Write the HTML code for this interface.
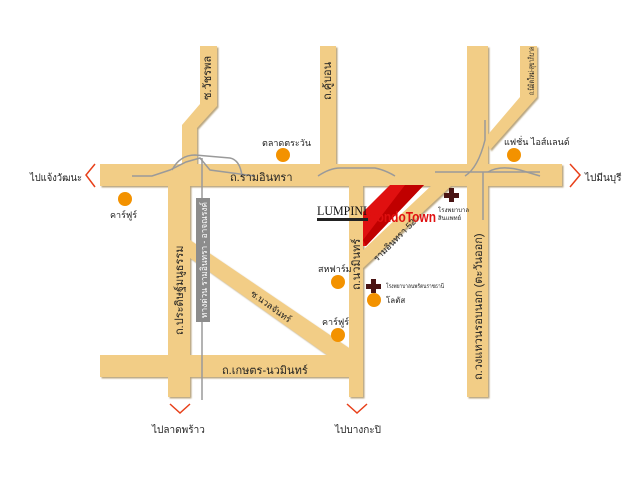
<!DOCTYPE html>
<html><head><meta charset="utf-8"><style>
html,body{margin:0;padding:0;background:#fff;}
svg{display:block;}
text{font-family:"Liberation Sans","Noto Sans CJK SC",sans-serif;fill:#222;}
</style></head><body>
<svg width="640" height="480" viewBox="0 0 640 480">
<defs><filter id="sh" x="-5%" y="-5%" width="110%" height="110%"><feDropShadow dx="1.5" dy="1.5" stdDeviation="0.8" flood-color="#a89060" flood-opacity="0.8"/></filter></defs>
<g fill="#f2cd86" filter="url(#sh)">
<rect x="100" y="164" width="462" height="22"/>
<rect x="100" y="355" width="262" height="22"/>
<rect x="168" y="164" width="22" height="233"/>
<polygon points="200,46 217,46 217,106 197,128 197,166 182,166 182,125 200,104"/>
<rect x="320" y="46" width="16" height="120"/>
<rect x="349" y="184" width="14" height="213"/>
<rect x="467" y="46" width="21" height="351"/>
<polygon points="520,46 537,46 537,97 490,150 485,138 520,97"/>
<polygon points="432,185 452,185 363,268 363,250"/>
<polygon points="190,240 190,258 330,357 352,357 352,350"/>
</g>
<g stroke="#9a9a9a" stroke-width="1.5" fill="none">
<path d="M132,176 L152,176 L170,170 L186,162 L200,158 L210,170 L255,176"/>
<path d="M172,170 Q180,155 195,155 L230,158 Q240,160 242,176"/>
<path d="M202,158 L202,400"/>
<path d="M318,176 Q330,168 340,168 L375,168 Q385,170 395,176"/>
<path d="M435,172 L540,172"/>
<path d="M465,176 Q478,168 485,140 L485,120"/>
<path d="M483,172 L483,220"/>
<path d="M488,172 Q500,165 520,170 L540,176"/>
</g>
<rect x="196" y="198" width="14" height="124" fill="#8c8c8c"/>
<text transform="translate(207,318) rotate(-90)" font-size="9" textLength="116" lengthAdjust="spacingAndGlyphs" style="fill:#fff">ทางด่วน รามอินทรา - อาจณรงค์</text>
<polygon points="390,185 424,185 366,246 363,246 363,212" fill="#e01010"/>
<polygon points="405,185 424,185 366,246 363,240" fill="#c00000"/>
<text x="317" y="215" font-size="13" textLength="50" lengthAdjust="spacingAndGlyphs" style="fill:#111;font-family:'Liberation Serif',serif">LUMPINI</text>
<rect x="317" y="218" width="51" height="3" fill="#222"/>
<text x="368" y="222" font-size="15" font-weight="bold" textLength="68" lengthAdjust="spacingAndGlyphs" style="fill:#e01010">CondoTown</text>
<g stroke="#e8401a" stroke-width="1.5" fill="none">
<polyline points="95,164 86,175 95,187"/>
<polyline points="570,164 580,175 570,187"/>
<polyline points="170,404 180,413 190,404"/>
<polyline points="347,404 357,413 367,404"/>
</g>
<g fill="#f39200">
<circle cx="125" cy="199" r="7"/><circle cx="283" cy="155" r="7"/>
<circle cx="514" cy="155" r="7"/><circle cx="338" cy="282" r="7"/>
<circle cx="338" cy="335" r="7"/><circle cx="374" cy="300" r="7"/>
</g>
<g fill="#4a1414">
<rect x="449" y="188" width="5" height="14"/><rect x="444" y="193" width="15" height="5"/>
<rect x="371" y="279" width="5" height="14"/><rect x="366" y="284" width="15" height="5"/>
</g>
<g font-size="10">
<text x="30" y="181" textLength="52" lengthAdjust="spacingAndGlyphs">ไปแจ้งวัฒนะ</text>
<text x="585" y="181">ไปมีนบุรี</text>
<text x="152" y="433">ไปลาดพร้าว</text>
<text x="335" y="433">ไปบางกะปิ</text>
<text x="230" y="181" font-size="11">ถ.รามอินทรา</text>
<text x="222" y="374" font-size="11">ถ.เกษตร-นวมินทร์</text>
<text x="110" y="218" font-size="9">คาร์ฟูร์</text>
<text x="262" y="146" font-size="9">ตลาดตระวัน</text>
<text x="504" y="145" font-size="9">แฟชั่น ไอส์แลนด์</text>
<text x="318" y="272" font-size="9">สหฟาร์ม</text>
<text x="322" y="325" font-size="9">คาร์ฟูร์</text>
<text x="386" y="303" font-size="8">โลตัส</text>
<text x="386" y="288" font-size="6" textLength="58" lengthAdjust="spacingAndGlyphs">โรงพยาบาลนพรัตนราชธานี</text>
<text x="438" y="212" font-size="6">โรงพยาบาล</text>
<text x="438" y="220" font-size="6">สินแพทย์</text>
<text transform="translate(211,100) rotate(-90)" font-size="11">ซ.วัชรพล</text>
<text transform="translate(331,100) rotate(-90)" font-size="11">ถ.คู้บอน</text>
<text transform="translate(534,95) rotate(-90)" font-size="8" textLength="48" lengthAdjust="spacingAndGlyphs">ถ.นิมิตใหม่-สุขาภิบาล</text>
<text transform="translate(183,335) rotate(-90)" font-size="11">ถ.ประดิษฐ์มนูธรรม</text>
<text transform="translate(360,290) rotate(-90)" font-size="11">ถ.นวมินทร์</text>
<text transform="translate(482,380) rotate(-90)" font-size="11">ถ.วงแหวนรอบนอก (ตะวันออก)</text>
<text transform="translate(250,295) rotate(36)" font-size="9">ซ.นวลจันทร์</text>
<text transform="translate(377,262) rotate(-45)" font-size="9">รามอินทรา 52</text>
</g>
</svg>
</body></html>
